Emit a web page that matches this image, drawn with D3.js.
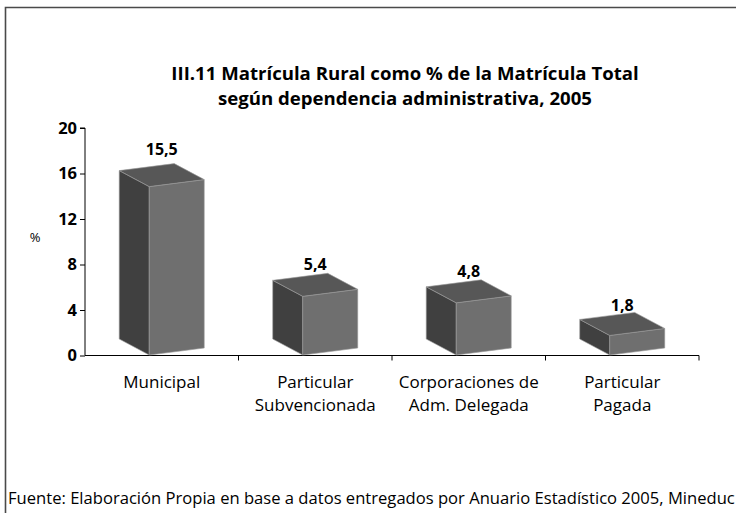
<!DOCTYPE html>
<html>
<head>
<meta charset="utf-8">
<script src="https://cdn.jsdelivr.net/npm/d3@7"></script>
<style>
  body { margin: 0; background: #fff; }
  svg { display: block; font-family: "Open Sans", sans-serif; }
</style>
</head>
<body>
<div id="chart"></div>
<script>
const categories = [
  ["Municipal"],
  ["Particular", "Subvencionada"],
  ["Corporaciones de", "Adm. Delegada"],
  ["Particular", "Pagada"]
];
const values = [15.5, 5.4, 4.8, 1.8];
const valueLabels = ["15,5", "5,4", "4,8", "1,8"];
const yTicks = [0, 4, 8, 12, 16, 20];

const titleLines = [
  "III.11 Matrícula Rural como % de la Matrícula Total",
  "según dependencia administrativa, 2005"
];
const sourceText = "Fuente: Elaboración Propia en base a datos entregados por Anuario Estadístico 2005, Mineduc";

const W = 736, H = 513;
const plot = { left: 85, right: 699, top: 128, bottom: 355.5 };

const svg = d3.select("#chart")
  .append("svg")
  .attr("width", W)
  .attr("height", H);

// frame (top + left only)
svg.append("path")
  .attr("d", `M5.5,${H} L5.5,7.5 L${W},7.5`)
  .attr("fill", "none")
  .attr("stroke", "#4a4a4a")
  .attr("stroke-width", 1.6);

// title
svg.append("text")
  .attr("x", 405).attr("y", 80)
  .attr("text-anchor", "middle")
  .style("font-weight", "bold").style("font-size", "18.6px")
  .selectAll("tspan")
  .data(titleLines)
  .join("tspan")
  .attr("x", 405)
  .attr("dy", (d, i) => i === 0 ? 0 : 25)
  .text(d => d);

const y = d3.scaleLinear().domain([0, 20]).range([plot.bottom, plot.top]);
// front face heights appear slightly foreshortened by the 3D view
const h = d3.scaleLinear().domain([0, 20]).range([0, (y(0) - y(20)) * 0.955]);

const x = d3.scaleBand()
  .domain(d3.range(categories.length))
  .range([plot.left, plot.right])
  .paddingInner(0.446)
  .paddingOuter(0.223);

// y axis
const yAxisG = svg.append("g")
  .attr("transform", `translate(${plot.left},0)`)
  .call(d3.axisLeft(y).tickValues(yTicks).tickSize(5).tickPadding(3));
yAxisG.select(".domain").attr("stroke", "#000").attr("d", `M-5,${plot.top}H0V${plot.bottom}`);
yAxisG.selectAll("text")
  .style("font-family", "Open Sans, sans-serif")
  .style("font-size", "16.5px").style("font-weight", "bold")
  .attr("fill", "#000");

svg.append("text")
  .attr("x", 35).attr("y", 242)
  .attr("text-anchor", "middle")
  .style("font-size", "13px")
  .text("%");

// x axis: line + ticks at category boundaries
const xAxisG = svg.append("g");
xAxisG.append("line")
  .attr("x1", plot.left).attr("x2", plot.right)
  .attr("y1", plot.bottom).attr("y2", plot.bottom)
  .attr("stroke", "#000");
xAxisG.selectAll(".xt")
  .data(d3.range(1, categories.length + 1))
  .join("line")
  .attr("class", "xt")
  .attr("x1", i => plot.left + x.step() * i)
  .attr("x2", i => plot.left + x.step() * i)
  .attr("y1", plot.bottom).attr("y2", plot.bottom + 5)
  .attr("stroke", "#000");

// 3D columns
const side = 30, front = 55, depthY = 16, tilt = 7, base = 355;

const bars = svg.append("g")
  .selectAll("g")
  .data(values.map((v, i) => ({ v, i })))
  .join("g");

function pts(arr) { return arr.map(p => p.join(",")).join(" "); }

bars.each(function (d) {
  const g = d3.select(this);
  const bx = x(d.i);
  const hh = h(d.v);
  const fBL = [bx + side, base], fBR = [bx + side + front, base - tilt];
  const fTL = [bx + side, base - hh], fTR = [bx + side + front, base - tilt - hh];
  const sBL = [bx, base - depthY], sTL = [bx, base - depthY - hh];
  const bTR = [bx + front, base - tilt - depthY - hh];

  g.append("polygon").attr("points", pts([sBL, fBL, fTL, sTL]))
    .attr("fill", "#404040").attr("stroke", "#9a9a9a").attr("stroke-width", 0.6);
  g.append("polygon").attr("points", pts([fBL, fBR, fTR, fTL]))
    .attr("fill", "#6f6f6f").attr("stroke", "#9a9a9a").attr("stroke-width", 0.6);
  g.append("polygon").attr("points", pts([sTL, fTL, fTR, bTR]))
    .attr("fill", "#575757").attr("stroke", "#9a9a9a").attr("stroke-width", 0.6);
});

bars.append("text")
  .attr("x", d => x(d.i) + x.bandwidth() / 2)
  .attr("y", d => y(d.v) - 24)
  .attr("text-anchor", "middle")
  .style("font-size", "16px").style("font-weight", "bold")
  .text(d => valueLabels[d.i]);

// category labels
svg.append("g")
  .selectAll("text")
  .data(categories)
  .join("text")
  .attr("x", (d, i) => x(i) + x.bandwidth() / 2)
  .attr("y", 388)
  .attr("text-anchor", "middle")
  .style("font-size", "17px")
  .selectAll("tspan")
  .data(d => d)
  .join("tspan")
  .attr("x", function () { return this.parentNode.getAttribute("x"); })
  .attr("dy", (d, i) => i === 0 ? 0 : 23)
  .text(d => d);

// source note
svg.append("text")
  .attr("x", 8).attr("y", 504)
  .style("font-size", "16.6px")
  .text(sourceText);
</script>
</body>
</html>
